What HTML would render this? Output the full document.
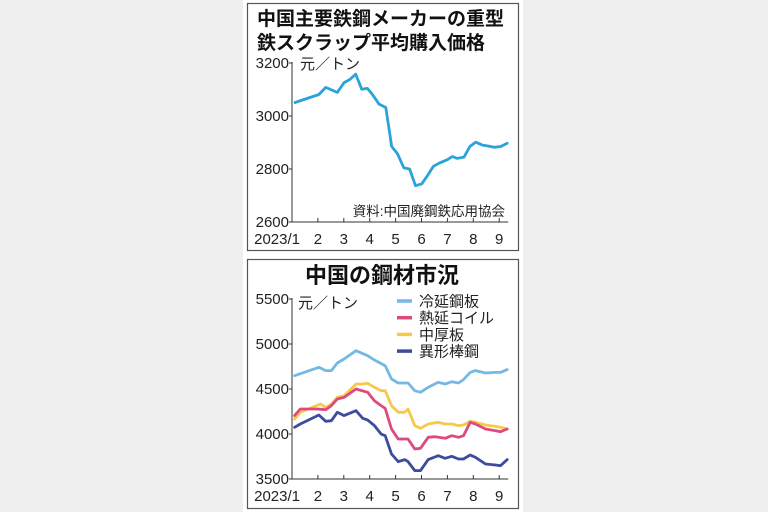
<!DOCTYPE html>
<html><head><meta charset="utf-8"><style>
html,body{margin:0;padding:0;background:#efefef;}
body{width:768px;height:512px;overflow:hidden;position:relative;font-family:"Liberation Sans","Noto Sans CJK JP",sans-serif;}
#panel{position:absolute;left:243px;top:0;width:280px;height:512px;background:#fff;}
svg{position:absolute;left:0;top:0;}
</style></head><body>
<div id="panel"></div>
<svg id="c" width="768" height="512"></svg>
<script>
// Top chart data
const scrapMonths=[1.12,2.04,2.30,2.75,3.01,3.24,3.46,3.69,3.91,4.10,4.36,4.62,4.85,5.07,5.32,5.54,5.77,6.01,6.23,6.46,6.68,7.00,7.19,7.38,7.64,7.87,8.09,8.35,8.54,8.80,9.06,9.31];
const scrapValues=[3051,3081,3108,3089,3126,3138,3158,3101,3104,3082,3045,3032,2885,2858,2804,2800,2737,2744,2775,2810,2822,2835,2847,2840,2845,2885,2901,2890,2887,2882,2885,2897];
const topTicks=[2600,2800,3000,3200];
const monthLabels=["2023/1","2","3","4","5","6","7","8","9"];
// Bottom chart data
const coldMonths=[1.10,2.04,2.30,2.52,2.75,3.01,3.47,3.92,4.18,4.60,4.84,5.10,5.48,5.74,5.96,6.26,6.65,6.91,7.17,7.43,7.62,7.88,8.08,8.47,8.86,9.05,9.31];
const coldValues=[4648,4741,4704,4704,4789,4833,4926,4870,4822,4759,4611,4567,4567,4481,4463,4519,4574,4556,4581,4567,4604,4685,4704,4678,4685,4685,4715];
const hotMonths=[1.10,1.32,1.97,2.30,2.52,2.75,3.01,3.47,3.92,4.18,4.44,4.60,4.84,5.10,5.48,5.74,5.96,6.26,6.52,6.91,7.17,7.43,7.62,7.88,8.08,8.47,8.86,9.05,9.31];
const hotValues=[4204,4278,4278,4270,4315,4389,4407,4500,4463,4370,4315,4285,4056,3944,3944,3833,3841,3963,3970,3952,3981,3963,3981,4130,4111,4056,4037,4026,4056];
const plateMonths=[1.10,1.32,2.10,2.30,2.52,2.75,3.01,3.47,3.73,3.92,4.18,4.44,4.60,4.84,5.10,5.35,5.48,5.74,5.96,6.26,6.65,6.91,7.17,7.43,7.62,7.88,8.08,8.47,8.86,9.05,9.31];
const plateValues=[4167,4241,4333,4296,4333,4407,4426,4556,4556,4563,4519,4481,4481,4315,4241,4241,4278,4093,4063,4111,4130,4111,4111,4093,4100,4141,4130,4100,4085,4074,4056];
const rebarMonths=[1.10,1.32,2.04,2.30,2.52,2.75,3.01,3.47,3.73,3.92,4.18,4.44,4.60,4.84,5.10,5.35,5.48,5.74,5.96,6.26,6.65,6.91,7.17,7.43,7.62,7.88,8.08,8.47,8.86,9.05,9.31];
const rebarValues=[4074,4111,4211,4141,4148,4241,4204,4259,4174,4156,4093,4000,3981,3778,3693,3715,3693,3593,3593,3715,3759,3730,3752,3722,3722,3767,3741,3667,3656,3648,3715];
const bottomTicks=[3500,4000,4500,5000,5500];
const seriesNames=["冷延鋼板","熱延コイル","中厚板","異形棒鋼"];
const seriesColors=["#73b9e4","#df4a7c","#f6c94a","#3f4b9e"];

const svg=document.getElementById('c');
const NS="http://www.w3.org/2000/svg";
function mk(tag,attrs,txt){const e=document.createElementNS(NS,tag);for(const k in attrs)e.setAttribute(k,attrs[k]);if(txt!==undefined)e.textContent=txt;svg.appendChild(e);return e;}
const xM=m=>292+(m-1)*25.9;
const yTop=v=>222-(v-2600)*(159/600);
const yBot=v=>479-(v-3500)*(180/2000);

let b=mk('rect',{x:247.5,y:3.5,width:271,height:247,fill:'none',stroke:'#555','stroke-width':1.2});


b=mk('rect',{x:247.5,y:259.5,width:271,height:249,fill:'none',stroke:'#555','stroke-width':1.2});



let t=mk('text',{x:257,y:25,'font-size':19,'font-weight':'bold',fill:'#111'},'中国主要鉄鋼メーカーの重型');


t=mk('text',{x:257,y:49,'font-size':19,'font-weight':'bold',fill:'#111'},'鉄スクラップ平均購入価格');


t=mk('text',{x:382,y:283,'font-size':22,'font-weight':'bold',fill:'#111','text-anchor':'middle'},'中国の鋼材市況');



function axes(prefix,yf,ticks,x0,yAxisTop,yAxisBot,labelY){
  let a=mk('line',{x1:x0,y1:yAxisTop,x2:x0,y2:yAxisBot,stroke:'#333','stroke-width':1});
  
  
  a=mk('line',{x1:x0,y1:yAxisBot,x2:xM(9.35),y2:yAxisBot,stroke:'#333','stroke-width':1});
  
  
  ticks.forEach(v=>{
    const l=mk('line',{x1:x0-3,y1:yf(v),x2:x0,y2:yf(v),stroke:'#333'});
    
    
    const tx=mk('text',{x:x0-3,y:yf(v)+5,'font-size':15,'text-anchor':'end',fill:'#222'},v);
    
    
  });
  monthLabels.forEach((s,i)=>{
    const m=i+1;
    if(i>0){const l=mk('line',{x1:xM(m),y1:yAxisBot,x2:xM(m),y2:yAxisBot-4,stroke:'#333'});
    
    }
    const tx=mk('text',{x:i===0?xM(m)+8:xM(m),y:labelY,'font-size':15,'text-anchor':i===0?'end':'middle',fill:'#222'},s);
    
    
  });
}
axes('top',yTop,topTicks,292,62,222,244);
axes('bottom',yBot,bottomTicks,292,298,479,501);

t=mk('text',{x:300,y:69,'font-size':15,fill:'#222'},'元／トン');


t=mk('text',{x:298,y:308,'font-size':15,fill:'#222'},'元／トン');


t=mk('text',{x:505,y:216,'font-size':13.5,fill:'#222','text-anchor':'end'},'資料:中国廃鋼鉄応用協会');



function line(ms,vs,yf,color){
  const d=ms.map((m,i)=>(i?'L':'M')+xM(m).toFixed(1)+','+yf(vs[i]).toFixed(1)).join('');
  return mk('path',{d:d,fill:'none',stroke:color,'stroke-width':2.8,'stroke-linejoin':'round','stroke-linecap':'round'});
}
let p=line(scrapMonths,scrapValues,yTop,'#2aa3da');



const bm=[coldMonths,hotMonths,plateMonths,rebarMonths];
const bv=[coldValues,hotValues,plateValues,rebarValues];
const keys=['cold-rolled','hot-rolled','plate','rebar'];
[0,2,1,3].forEach(i=>{
  const q=line(bm[i],bv[i],yBot,seriesColors[i]);
  
  
});
seriesNames.forEach((n,i)=>{
  const y=301+i*16.7;
  const l=mk('line',{x1:397,y1:y,x2:412,y2:y,stroke:seriesColors[i],'stroke-width':3.5});
  
  
  const tx=mk('text',{x:419,y:y+5.5,'font-size':15,fill:'#222'},n);
  
  
});
</script>
</body></html>
